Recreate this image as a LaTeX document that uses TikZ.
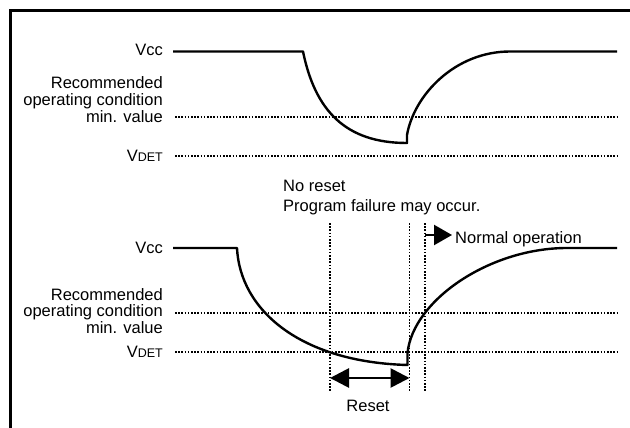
\documentclass[tikz,border=0pt]{standalone}
\usepackage{fontspec}
\setmainfont{Liberation Sans}
\usetikzlibrary{arrows.meta}
\begin{document}
\begin{tikzpicture}[x=1pt,y=-1pt,
  font=\fontsize{16.5}{16.8}\selectfont,
  wave/.style={line width=2.4pt, line join=round},
  guide/.style={line width=1.8pt, dash pattern=on 1.5pt off 1.7pt},
  lbl/.style={inner sep=0pt, align=right},
  txt/.style={inner sep=0pt},
  frameline/.style={line width=3pt},
  bigtip/.style={line width=2.8pt, {Triangle[length=19pt,width=19pt]}-{Triangle[length=19pt,width=19pt]}},
  onetip/.style={line width=2.4pt, -{Triangle[length=18pt,width=20pt]}}]
\useasboundingbox (0,0) rectangle (630,428);
\draw[frameline] (10.5,428) -- (10.5,10.5) -- (630,10.5);

% ---------- upper diagram ----------
\node[lbl, anchor=east] (vccA) at (163,50) {Vcc};
\node[lbl, anchor=south east] (recA) at (163,122.5) {Recommended\\operating condition\\min. value};
\node[lbl, anchor=east] (vdetA) at (163,156) {V{\fontsize{12.5}{13}\selectfont DET}};

\coordinate (a0) at (173,51.5);
\coordinate (a1) at (303,51.5);
\coordinate (a2) at (407,143);
\coordinate (a2u) at (407,135);
\coordinate (a3) at (510,51.5);
\coordinate (a4) at (617,51.5);
\draw[wave] (a0) -- (a1) .. controls (315,110) and (345,143) .. (a2) -- (a2u)
  .. controls (414,95) and (455,51.5) .. (a3) -- (a4);

\coordinate (ma0) at (175,117); \coordinate (ma1) at (617,117);
\coordinate (da0) at (175,156); \coordinate (da1) at (617,156);
\draw[guide] (ma0) -- (ma1);
\draw[guide] (da0) -- (da1);

% ---------- note ----------
\node[txt, anchor=north west, align=left, font=\fontsize{16.5}{20}\selectfont] (note) at (283,180.2)
  {No reset\\Program failure may occur.};

% ---------- lower diagram ----------
\node[lbl, anchor=east] (vccB) at (163,248) {Vcc};
\node[lbl, anchor=south east] (recB) at (163,334) {Recommended\\operating condition\\min. value};
\node[lbl, anchor=east] (vdetB) at (163,352) {V{\fontsize{12.5}{13}\selectfont DET}};

\coordinate (b0) at (173,248);
\coordinate (b1) at (237,248);
\coordinate (b2) at (407.5,365);
\coordinate (b2u) at (407.5,353);
\coordinate (b3) at (567,248);
\coordinate (b4) at (617,248);
\draw[wave] (b0) -- (b1) .. controls (240,310) and (300,362) .. (b2) -- (b2u)
  .. controls (413,300) and (490,248) .. (b3) -- (b4);

\coordinate (mb0) at (175,313); \coordinate (mb1) at (617,313);
\coordinate (db0) at (175,352); \coordinate (db1) at (617,352);
\draw[guide] (mb0) -- (mb1);
\draw[guide] (db0) -- (db1);

% vertical markers
\coordinate (v1t) at (330,223); \coordinate (v1b) at (330,392);
\coordinate (v2t) at (409.5,223); \coordinate (v2b) at (409.5,392);
\coordinate (v3t) at (425,223); \coordinate (v3b) at (425,392);
\draw[guide] (v1t) -- (v1b);
\draw[guide] (v2t) -- (v2b);
\draw[guide] (v3t) -- (v3b);

% normal operation
\node[txt, anchor=base west] (normal) at (455,243) {Normal operation};
\coordinate (nstart) at (425,235);
\draw[onetip, shorten >=3pt] (nstart) -- (nstart -| normal.west);

% reset
\coordinate (rl) at (330,378);
\coordinate (rr) at (409.5,378);
\draw[bigtip] (rl) -- (rr);
\node[txt] (reset) at (368,406) {Reset};
\end{tikzpicture}
\end{document}
